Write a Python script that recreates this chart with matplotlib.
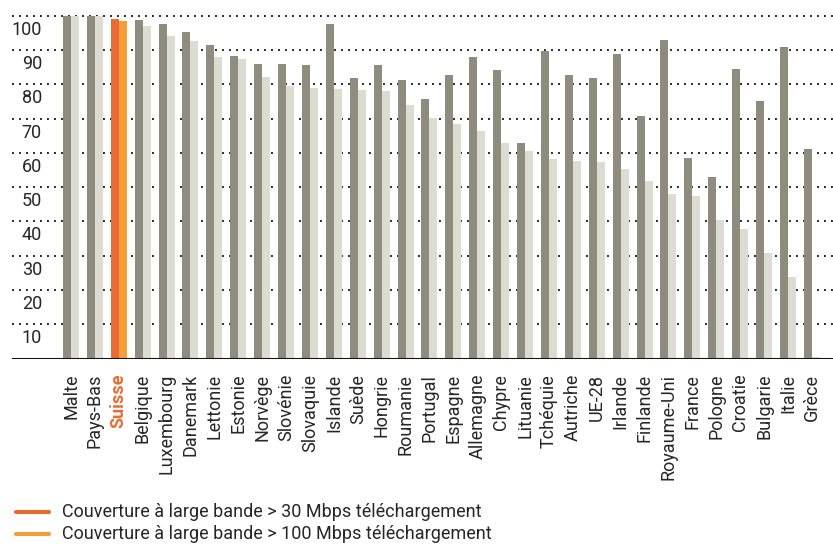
import matplotlib
matplotlib.use("Agg")
import matplotlib.pyplot as plt
from matplotlib.lines import Line2D
import numpy as np

plt.rcParams['font.family'] = ['Roboto', 'DejaVu Sans']

countries = ["Malte", "Pays-Bas", "Suisse", "Belgique", "Luxembourg", "Danemark",
             "Lettonie", "Estonie", "Norvège", "Slovénie", "Slovaquie", "Islande",
             "Suède", "Hongrie", "Roumanie", "Portugal", "Espagne", "Allemagne",
             "Chypre", "Lituanie", "Tchéquie", "Autriche", "UE-28", "Irlande",
             "Finlande", "Royaume-Uni", "France", "Pologne", "Croatie", "Bulgarie",
             "Italie", "Grèce"]
cover_30 = [100, 100, 99.0, 98.7, 97.6, 95.2, 91.6, 88.2, 85.9, 85.9, 85.6, 97.6,
            81.8, 85.6, 81.2, 75.7, 82.7, 88.0, 84.2, 62.9, 89.7, 82.7, 81.8, 88.8,
            70.7, 92.9, 58.5, 52.9, 84.5, 75.1, 90.9, 61.1]
cover_100 = [100, 100, 98.5, 97.0, 94.1, 92.6, 88.0, 87.4, 82.1, 79.5, 78.9, 78.6,
             78.3, 78.0, 73.9, 70.2, 68.4, 66.4, 62.9, 60.5, 58.2, 57.6, 57.3, 55.3,
             51.8, 48.0, 47.4, 40.4, 37.8, 30.8, 23.8, 0.4]
y_ticks = [10, 20, 30, 40, 50, 60, 70, 80, 90, 100]
legend_labels = ["Couverture à large bande > 30 Mbps téléchargement",
                 "Couverture à large bande > 100 Mbps téléchargement"]
highlight = "Suisse"

dark_grey = "#8e8c7e"
light_grey = "#dcdcd3"
red_orange = "#e96c34"
orange = "#f59e39"
text_col = "#262626"

W, H = 833, 545
PT = 0.72  # points per pixel at 100 dpi
fig = plt.figure(figsize=(W / 100, H / 100), dpi=100)
ax = fig.add_axes([12 / W, (H - 358.5) / H, 1 - 12 / W, (358.5 - 2) / H])

x = np.arange(len(countries))
bw = 8 / 23.9
c30 = [red_orange if c == highlight else dark_grey for c in countries]
c100 = [orange if c == highlight else light_grey for c in countries]
ax.bar(x - bw / 2, cover_30, width=bw, color=c30, zorder=2)
ax.bar(x + bw / 2, cover_100, width=bw, color=c100, zorder=2)

ax.set_xlim((12 - 71) / 23.9, (833 - 71) / 23.9)
ax.set_ylim(0, 104)

for v in y_ticks:
    ax.axhline(v, color="#2a2a2a", lw=1.4, linestyle=(0, (1, 2.6)), zorder=1)
    ax.annotate(str(v), xy=(0, v), xycoords=("axes fraction", "data"),
                xytext=(30 * PT, -14 * PT), textcoords="offset points",
                ha="right", va="center", fontsize=13, color=text_col)
ax.axhline(0, color="#111111", lw=2.2, zorder=3)

for s in ax.spines.values():
    s.set_visible(False)
ax.set_yticks([])
ax.set_xticks(x)
ax.set_xticklabels(countries, rotation=90, fontsize=13, color=text_col)
ax.tick_params(axis="x", length=0, pad=11)
for lab in ax.get_xticklabels():
    if lab.get_text() == highlight:
        lab.set_color(red_orange)
        lab.set_fontweight("bold")

# legend drawn in figure pixels
for ypix, col, text in [(512, red_orange, legend_labels[0]), (534, orange, legend_labels[1])]:
    yf = (H - ypix) / H
    fig.add_artist(Line2D([16 / W, 49 / W], [yf, yf], transform=fig.transFigure,
                          color=col, lw=3, solid_capstyle="round"))
    fig.text(62 / W, yf, text, ha="left", va="center", fontsize=13, color=text_col)

fig.savefig("out.png", dpi=100)
